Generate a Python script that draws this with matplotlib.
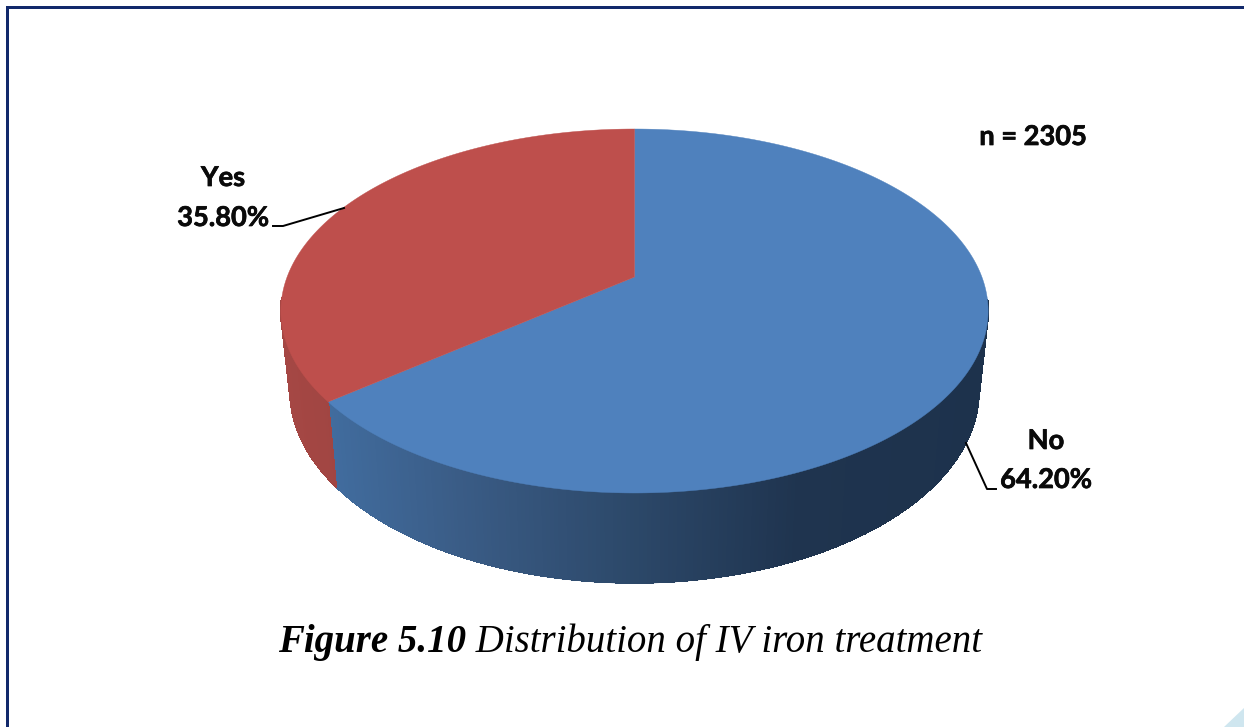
import matplotlib
matplotlib.use('Agg')
import matplotlib.pyplot as plt
import matplotlib.patheffects as pe
import numpy as np
from matplotlib.collections import LineCollection, PolyCollection
from matplotlib.colors import to_rgb
from matplotlib.patches import Polygon, Rectangle

categories = ['No', 'Yes']
values = [64.2, 35.8]
n_total = 2305
caption_bold = 'Figure 5.10'
caption_rest = ' Distribution of IV iron treatment'

top_colors = {'No': '#4f81bd', 'Yes': '#be4f4c'}
# side colours change with the screen x position
side_stops = {
    'No': ([329, 460, 634, 800, 988], ['#416c9e', '#3a5c86', '#2c4869', '#1f344f', '#1d324c']),
    'Yes': ([281, 340], ['#a54744', '#a04542']),
}
navy = '#12296b'

# pixel geometry of the tilted disc (perspective of a unit circle)
cx, apex_y = 634.5, 277.0
persp = 0.1868
ky = -123.9
kx = 347.4
# lower rim of the side wall
rim_sx, rim_sy, rim_y0 = 0.974, 1.055, 355.0


def top_rim(theta):
    # theta is clockwise from 12 o'clock
    u, v = np.sin(theta), np.cos(theta)
    d = persp * v + 1
    return cx + kx * u / d, (ky * v + apex_y) / d


def low_rim(theta):
    x, y = top_rim(theta)
    return cx + rim_sx * (x - cx), rim_y0 + rim_sy * (y - apex_y)


def side_color(name, x):
    xs, cols = side_stops[name]
    rgb = np.array([to_rgb(c) for c in cols])
    return [np.interp(x, xs, rgb[:, i]) for i in range(3)]


fig = plt.figure(figsize=(12.44, 7.27), dpi=100)
ax = fig.add_axes([0, 0, 1, 1])
ax.set_xlim(0, 1244)
ax.set_ylim(727, 0)
ax.axis('off')

# frame and corner of the page
ax.add_patch(Rectangle((6, 6), 1238, 2.5, color=navy, lw=0))
ax.add_patch(Rectangle((6, 6), 2.5, 721, color=navy, lw=0))
ax.add_patch(Polygon([(1224, 727), (1244, 708), (1244, 727)], color='#cfe6ef', lw=0))

edges = np.concatenate([[0], np.cumsum(values)]) / sum(values) * 2 * np.pi

# side wall, aliased strips so no seams show, then a soft line along the lower rim
for i, name in enumerate(categories):
    th = np.linspace(edges[i], edges[i + 1], 400)
    x1, y1 = top_rim(th)
    x2, y2 = low_rim(th)
    quads, cols, segs = [], [], []
    for j in range(len(th) - 1):
        # only the front of the wall shows
        if np.cos(th[j]) > -0.12:
            continue
        quads.append([(x1[j], y1[j]), (x1[j + 1], y1[j + 1]), (x2[j + 1], y2[j + 1]), (x2[j], y2[j])])
        segs.append([(x2[j], y2[j]), (x2[j + 1], y2[j + 1])])
        cols.append(side_color(name, x1[j]))
    ax.add_collection(PolyCollection(quads, facecolors=cols, edgecolors=cols, linewidths=0.6,
                                     antialiaseds=False, zorder=2))
    ax.add_collection(LineCollection(segs, colors=cols, linewidths=0.9, zorder=2))

# top face
for i, name in enumerate(categories):
    th = np.linspace(edges[i], edges[i + 1], 400)
    x, y = top_rim(th)
    pts = np.column_stack([np.r_[cx, x], np.r_[apex_y, y]])
    ax.add_patch(Polygon(pts, closed=True, facecolor=top_colors[name], edgecolor=top_colors[name], lw=0.3, zorder=3))

# labels
heavy = [pe.withStroke(linewidth=0.5, foreground='#0a0a0a')]
label_font = dict(family='Lato', fontweight='bold', fontsize=19.6, color='#0a0a0a', ha='center', va='center',
                  path_effects=heavy)
ax.text(1046, 441, categories[0], **label_font)
ax.text(1046, 480, f'{values[0]:.2f}%', **label_font)
ax.text(223, 178, categories[1], **label_font)
ax.text(223, 218, f'{values[1]:.2f}%', **label_font)
ax.text(1033, 137, f'n = {n_total}', **label_font)

ax.plot([966, 987, 996], [443, 489, 489], color='black', lw=1.4, zorder=4)
ax.plot([273, 283, 344], [226, 226, 208], color='black', lw=1.4, zorder=4)

# caption
t1 = ax.text(278, 652, caption_bold, family='Liberation Serif', style='italic', fontweight='bold',
             fontsize=28, color='black', ha='left', va='baseline')
ax.annotate(caption_rest, xy=(1, 0), xycoords=t1, family='Liberation Serif', style='italic',
            fontsize=28, color='black', ha='left', va='bottom')

fig.savefig('out.png', dpi=100)
